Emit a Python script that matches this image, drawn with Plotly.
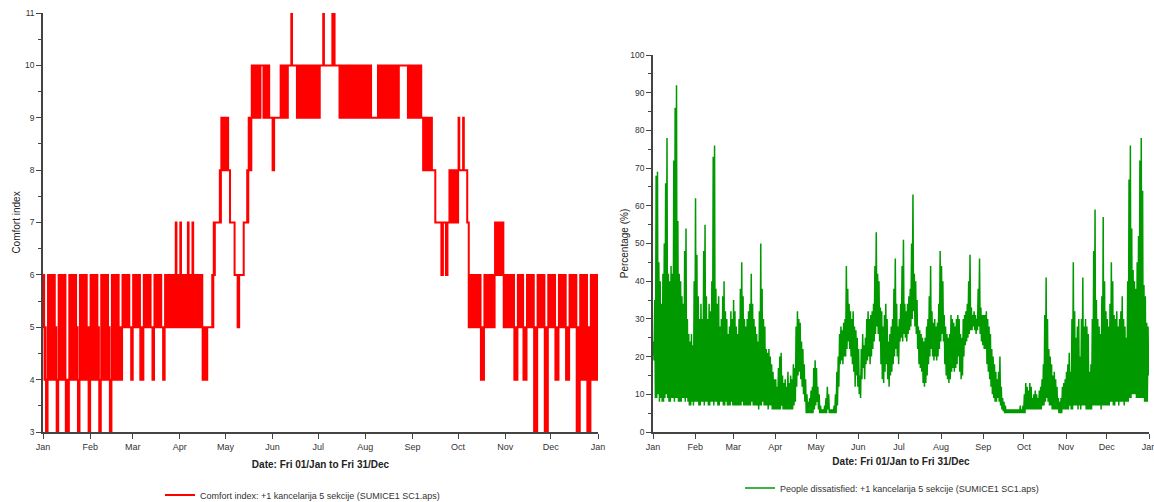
import plotly.graph_objects as go

# Month boundaries (day of year) and their labels
MONTH_START = [0, 31, 59, 90, 120, 151, 181, 212, 243, 273, 304, 334, 365]
MONTH_LABELS = ["Jan", "Feb", "Mar", "Apr", "May", "Jun", "Jul", "Aug", "Sep",
                "Oct", "Nov", "Dec", "Jan"]

# Comfort index, stored as runs of consecutive days:
# number of days in the run, daily minimum and daily maximum index
ci_run_days = [1, 1, 1, 5, 1, 1, 5, 2, 5, 1, 1, 5, 1, 1,
               5, 1, 1, 5, 1, 1, 5, 1, 1, 5, 1, 1,
               5, 2, 5, 1, 1, 5, 1, 1, 5, 2, 1, 2,
               1, 4, 1, 2, 1, 6, 3, 3, 1, 1, 3, 1, 5, 1, 3, 2, 1, 3, 2, 1, 2,
               6, 2, 4, 2, 1, 4, 5, 2, 1, 3, 7, 1, 7,
               2, 1, 5, 2, 3, 12, 1, 8, 4, 6, 1, 7, 6, 1, 8,
               1, 6, 2, 4, 1, 2, 1, 1, 6,
               1, 2, 1, 2, 1, 8, 2, 7, 6, 7,
               2, 4, 2, 5, 2, 5, 2,
               5, 2, 5, 2, 5, 2, 5, 2, 5]
ci_run_low = [5, 4, 3, 4, 4, 3, 4, 3, 4, 4, 3, 4, 4, 3,
              4, 4, 3, 4, 4, 3, 4, 5, 4, 5, 5, 4,
              5, 4, 5, 5, 4, 5, 5, 4, 5, 5, 5, 5,
              5, 5, 5, 5, 5, 5, 4, 5, 5, 6, 7, 7, 8, 8, 7, 6, 5, 6, 7, 7, 8,
              9, 10, 9, 9, 8, 9, 9, 10, 10, 10, 9, 10, 9,
              10, 10, 10, 10, 10, 9, 10, 9, 9, 9, 10, 9, 10, 9, 9,
              9, 8, 8, 7, 6, 7, 6, 7, 7,
              8, 8, 8, 8, 7, 5, 4, 5, 6, 5,
              4, 5, 4, 5, 3, 5, 3,
              5, 4, 5, 4, 5, 3, 4, 3, 4]
ci_run_high = [6, 5, 4, 6, 5, 4, 6, 4, 6, 5, 4, 6, 5, 5,
               6, 5, 4, 6, 5, 4, 6, 5, 5, 6, 5, 5,
               6, 5, 6, 5, 5, 6, 5, 5, 6, 6, 7, 6,
               7, 6, 7, 6, 7, 6, 5, 5, 6, 7, 7, 8, 9, 8, 7, 6, 6, 6, 7, 8, 9,
               10, 10, 10, 9, 9, 9, 10, 10, 11, 10, 10, 10, 10,
               10, 11, 10, 11, 10, 10, 10, 10, 9, 10, 10, 10, 10, 10, 10,
               9, 9, 8, 7, 7, 7, 7, 7, 8,
               9, 8, 9, 8, 7, 6, 5, 6, 7, 6,
               5, 6, 5, 6, 5, 6, 5,
               6, 5, 6, 5, 6, 5, 6, 5, 6]

# People dissatisfied (%), daily maximum per month
pd_high_months = [
    [24, 35, 68, 69, 45, 40, 34, 42, 50, 66, 78, 42, 40, 44, 42, 72, 86, 92, 56, 42,
     40, 36, 34, 48, 54, 30, 26, 24, 26, 23, 40],
    [62, 47, 36, 30, 34, 30, 48, 55, 36, 30, 34, 32, 40, 73, 76, 38, 34, 36, 28, 30,
     36, 40, 32, 30, 26, 28, 32, 30],
    [35, 32, 28, 26, 30, 38, 45, 36, 30, 28, 30, 32, 34, 42, 34, 30, 28, 26, 24, 32,
     50, 38, 30, 28, 22, 21, 22, 20, 18, 16, 14],
    [14, 12, 17, 20, 21, 15, 13, 14, 12, 16, 13, 15, 14, 18, 17, 28, 32, 30, 29, 24,
     22, 18, 14, 10, 8, 9, 11, 12, 17, 19],
    [17, 12, 10, 7, 6, 6, 7, 9, 12, 10, 6, 6, 6, 7, 10, 16, 20, 26, 28, 27,
     29, 30, 44, 38, 34, 32, 30, 32, 28, 27, 25],
    [22, 15, 22, 26, 23, 25, 30, 32, 30, 31, 32, 34, 44, 53, 42, 40, 33, 32, 28, 31,
     34, 30, 24, 26, 28, 30, 38, 46, 34, 28],
    [30, 34, 44, 51, 34, 32, 34, 36, 38, 50, 63, 42, 40, 35, 28, 27, 26, 25, 24, 25,
     28, 30, 36, 44, 32, 29, 30, 28, 29, 34, 48],
    [44, 40, 31, 28, 26, 25, 26, 31, 30, 29, 28, 30, 31, 30, 26, 25, 30, 31, 32, 34,
     40, 47, 33, 31, 32, 31, 30, 38, 46, 33, 31],
    [31, 31, 32, 30, 28, 26, 22, 20, 18, 16, 14, 16, 20, 12, 9, 8, 7, 6, 6, 6,
     6, 6, 6, 6, 6, 6, 6, 7, 6, 7],
    [10, 13, 12, 11, 13, 12, 9, 10, 11, 10, 9, 11, 12, 14, 18, 31, 41, 30, 22, 20,
     18, 15, 16, 14, 12, 9, 8, 9, 12, 13, 14],
    [16, 18, 21, 16, 30, 45, 32, 25, 28, 30, 20, 30, 41, 28, 30, 28, 26, 16, 18, 30,
     48, 59, 35, 30, 28, 26, 36, 57, 40, 32],
    [30, 28, 34, 45, 40, 31, 30, 32, 28, 30, 32, 36, 30, 28, 25, 40, 67, 76, 54, 43,
     40, 38, 45, 52, 72, 78, 64, 39, 36, 29, 28],
]

# People dissatisfied (%), daily minimum per month
pd_low_months = [
    [19, 9, 9, 10, 8, 9, 8, 8, 9, 10, 9, 8, 8, 9, 9, 8, 9, 9, 8, 8,
     8, 9, 9, 8, 9, 8, 7, 7, 8, 7, 8],
    [8, 8, 7, 7, 8, 8, 7, 8, 8, 7, 7, 8, 8, 7, 8, 8, 7, 7, 8, 8,
     7, 7, 8, 7, 7, 7, 8, 7],
    [7, 7, 7, 7, 7, 7, 8, 7, 7, 7, 7, 7, 7, 8, 7, 7, 7, 7, 6, 7,
     7, 8, 7, 7, 7, 6, 7, 7, 6, 6, 6],
    [6, 6, 6, 6, 7, 6, 6, 6, 6, 6, 6, 6, 6, 7, 8, 12, 15, 16, 14, 12,
     10, 8, 5, 5, 5, 5, 5, 5, 6, 7],
    [8, 6, 5, 5, 5, 5, 5, 5, 6, 5, 5, 5, 5, 5, 5, 7, 12, 18, 19, 18,
     20, 20, 22, 24, 22, 20, 18, 16, 12, 15, 12],
    [10, 9, 14, 17, 14, 18, 19, 20, 18, 20, 22, 24, 26, 28, 26, 24, 18, 14, 13, 16,
     18, 14, 12, 15, 16, 18, 20, 22, 20, 18],
    [24, 25, 24, 26, 25, 24, 26, 27, 28, 30, 32, 28, 26, 22, 18, 17, 16, 13, 12, 13,
     15, 18, 20, 22, 20, 19, 20, 19, 20, 22, 24],
    [26, 24, 18, 15, 14, 13, 14, 16, 17, 16, 17, 18, 20, 16, 14, 15, 20, 23, 24, 25,
     26, 27, 27, 28, 27, 26, 27, 28, 26, 24, 23],
    [22, 22, 18, 16, 14, 12, 10, 9, 8, 8, 9, 8, 7, 6, 5.5, 5, 5, 5, 5, 5,
     5, 5, 5, 5, 5, 5, 5, 5, 5, 5],
    [5, 6, 6, 6, 6, 6, 6, 6, 6, 6, 6, 6, 6, 7, 7, 8, 9, 8, 7, 7,
     6, 6, 6, 6, 6, 5, 5, 5, 6, 6, 6],
    [6, 6, 7, 6, 6, 7, 7, 7, 6, 7, 6, 7, 7, 7, 6, 6, 6, 6, 6, 7,
     7, 7, 7, 7, 7, 6, 7, 7, 7, 7],
    [7, 7, 8, 8, 7, 7, 8, 8, 7, 8, 8, 8, 7, 8, 8, 8, 9, 9, 10, 10,
     10, 9, 9, 9, 9, 9, 9, 8, 8, 8, 15],
]

LEGEND_CI = "Comfort index: +1 kancelarija 5 sekcije (SUMICE1 SC1.aps)"
LEGEND_PD = "People dissatisfied: +1 kancelarija 5 sekcije (SUMICE1 SC1.aps)"
X_TITLE = "Date: Fri 01/Jan to Fri 31/Dec"

# Expand comfort-index runs into a daily low/high/low step trace
ci_x, ci_y = [], []
day = 0
for n, lo, hi in zip(ci_run_days, ci_run_low, ci_run_high):
    for k in range(n):
        d = day + k
        if lo == hi:
            ci_x.append(d)
            ci_y.append(lo)
        else:
            ci_x += [d, d + 0.3, d + 0.75]
            ci_y += [lo, hi, lo]
    day += n
ci_x.append(365)
ci_y.append(ci_y[-1])

# Daily peak followed by daily minimum for the dissatisfied percentage
pd_x, pd_y = [], []
d = 0
for highs, lows in zip(pd_high_months, pd_low_months):
    for hi, lo in zip(highs, lows):
        pd_x += [d + 0.3, d + 0.75]
        pd_y += [hi, lo]
        d += 1

W, H = 1154, 502
FONT = "Liberation Sans, Arial, sans-serif"


def fx(px):
    return px / W


def fy(py):
    return 1 - py / H


axis_style = dict(
    showline=True, linecolor="#444444", linewidth=1.5,
    ticks="outside", tickcolor="#444444", ticklen=5, tickwidth=1,
    showgrid=False, zeroline=False, automargin=False,
    ticklabeloverflow="allow",
)
x_tickfont = dict(family=FONT, size=9, color="#333333")
y_tickfont = dict(family=FONT, size=8.5, color="#333333")
title_font = dict(family=FONT, size=10, color="#222222")

fig = go.Figure()
fig.add_trace(go.Scatter(
    x=ci_x, y=ci_y, mode="lines", name=LEGEND_CI,
    line=dict(color="#ff0000", width=2, shape="hv", simplify=False),
    xaxis="x", yaxis="y", legend="legend",
))
fig.add_trace(go.Scatter(
    x=pd_x, y=pd_y, mode="lines", name=LEGEND_PD,
    line=dict(color="#009900", width=1.5, simplify=False),
    xaxis="x2", yaxis="y2", legend="legend2",
))

fig.update_layout(
    width=W, height=H,
    margin=dict(l=0, r=0, t=0, b=0, autoexpand=False),
    paper_bgcolor="white", plot_bgcolor="white",
    font=dict(family=FONT, color="#222222"),
    showlegend=True,
    xaxis=dict(
        domain=[fx(43), fx(598)], range=[0, 365], anchor="y",
        tickvals=MONTH_START, ticktext=MONTH_LABELS, tickfont=x_tickfont,
        title=dict(text="<b>" + X_TITLE + "</b>", font=title_font, standoff=10),
        **axis_style,
    ),
    yaxis=dict(
        domain=[fy(432), fy(13)], range=[3, 11], dtick=1, anchor="x",
        tickfont=y_tickfont,
        minor=dict(dtick=0.5, ticklen=3, ticks="outside", tickcolor="#444444"),
        title=dict(text="Comfort index", font=title_font, standoff=3),
        **axis_style,
    ),
    xaxis2=dict(
        domain=[fx(653), fx(1149)], range=[0, 365], anchor="y2",
        tickvals=MONTH_START, ticktext=MONTH_LABELS, tickfont=x_tickfont,
        title=dict(text="<b>" + X_TITLE + "</b>", font=title_font, standoff=7),
        **axis_style,
    ),
    yaxis2=dict(
        domain=[fy(432), fy(55)], range=[0, 100], dtick=10, anchor="x2",
        tickfont=y_tickfont,
        minor=dict(dtick=5, ticklen=3, ticks="outside", tickcolor="#444444"),
        title=dict(text="Percentage (%)", font=title_font, standoff=0),
        **axis_style,
    ),
    legend=dict(
        x=fx(160), y=fy(495), xanchor="left", yanchor="middle",
        font=dict(family=FONT, size=9, color="#333333"),
        bgcolor="rgba(0,0,0,0)",
    ),
    legend2=dict(
        x=fx(740), y=fy(488), xanchor="left", yanchor="middle",
        font=dict(family=FONT, size=9, color="#333333"),
        bgcolor="rgba(0,0,0,0)",
    ),
)

fig.write_html("out.html")
